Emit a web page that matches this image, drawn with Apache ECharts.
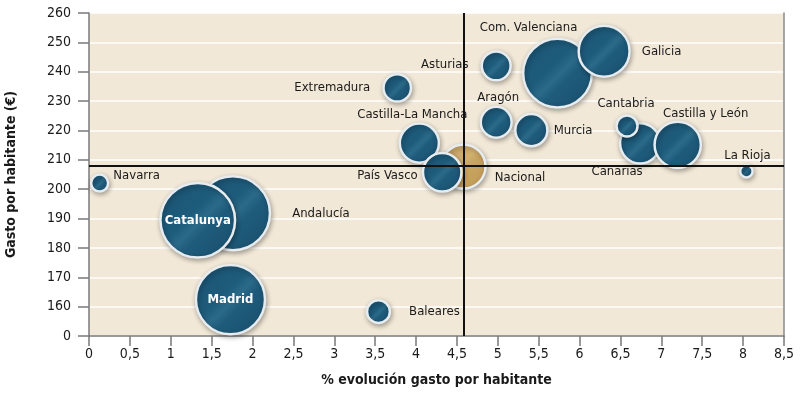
<!DOCTYPE html>
<html>
<head>
<meta charset="utf-8">
<script src="https://cdn.jsdelivr.net/npm/echarts@6/dist/echarts.min.js"></script>
<style>
html,body{margin:0;padding:0;background:#fff;}
#chart{width:800px;height:395px;}
</style>
</head>
<body>
<div id="chart"></div>
<script>
// Data (draw order matters for overlaps)
const regions   = ['Navarra','Andalucía','Catalunya','Madrid','Baleares','Extremadura','Castilla-La Mancha','Nacional','País Vasco','Asturias','Aragón','Murcia','Com. Valenciana','Galicia','Canarias','Cantabria','Castilla y León','La Rioja'];
const evolucion = [0.13, 1.76, 1.33, 1.73, 3.54, 3.77, 4.04, 4.58, 4.32, 4.98, 4.98, 5.41, 5.73, 6.30, 6.74, 6.58, 7.20, 8.04];
const gasto     = [202.1, 191.8, 189.4, 162.4, 158.3, 234.5, 215.7, 207.7, 205.8, 242.0, 222.8, 220.1, 239.5, 247.0, 215.6, 221.5, 215.1, 206.1];
const tamano    = [0.56, 8.68, 8.8, 7.58, 0.95, 1.33, 2.56, 3.21, 2.49, 1.46, 1.65, 1.77, 7.5, 4.22, 2.68, 0.82, 3.52, 0.33];
const mediaX = 4.58;
const mediaY = 208;
const xTicks = {min: 0, max: 8.5, interval: 0.5};
const yTicks = {min: 150, max: 260, interval: 10, breakLabel: '0'};

const FONT = '"Liberation Sans Narrow","DejaVu Sans Condensed",sans-serif';
const BORDER = 2.5;

// label placement (style)
const labelCfg = {
  'Navarra':            {position:'right', distance:4, d:[0,-7]},
  'Andalucía':          {position:'right', distance:21, d:[0,0]},
  'Catalunya':          {position:'inside', inside:true},
  'Madrid':             {position:'inside', inside:true},
  'Baleares':           {position:'right', distance:18, d:[0,0]},
  'Extremadura':        {position:'left', distance:12, d:[0,0]},
  'Castilla-La Mancha': {position:'top', distance:1, d:[-7,0]},
  'Nacional':           {position:'right', distance:8, d:[0,11]},
  'País Vasco':         {position:'left', distance:4, d:[0,3]},
  'Asturias':           {position:'left', distance:12, d:[0,-1]},
  'Aragón':             {position:'top', distance:1, d:[2,0]},
  'Murcia':             {position:'right', distance:5, d:[0,0]},
  'Com. Valenciana':    {position:'top', distance:3, d:[-29,0]},
  'Galicia':            {position:'right', distance:11, d:[0,0]},
  'Canarias':           {position:'bottom', distance:0, d:[-23,0]},
  'Cantabria':          {position:'top', distance:4, d:[-1,0]},
  'Castilla y León':    {position:'top', distance:0, d:[28,0]},
  'La Rioja':           {position:'top', distance:2, d:[1,0]}
};

function bubbleColor(name){
  if(name === 'Nacional'){
    return new echarts.graphic.LinearGradient(0,0,1,1,[
      {offset:0,color:'#c6a060'},{offset:0.45,color:'#d2b071'},{offset:0.55,color:'#c9a462'},{offset:1,color:'#bf9854'}]);
  }
  return new echarts.graphic.LinearGradient(0,0,1,1,[
    {offset:0,color:'#1b5170'},{offset:0.42,color:'#1e5c7c'},{offset:0.52,color:'#2c6a89'},{offset:0.62,color:'#1e5b7b'},{offset:1,color:'#1a4e6b'}]);
}

const data = regions.map((n,i)=>{
  const c = labelCfg[n];
  const lab = c.inside ? {
      show:true, position:'inside', formatter:'{b}', color:'#fff', fontWeight:'bold', fontSize:13, fontFamily:FONT
    } : {
      show:true, position:c.position, distance:c.distance, formatter:'{b}',
      color:'#1a1a1a', fontSize:13, fontFamily:FONT
    };
  return {
    name:n,
    value:[evolucion[i], gasto[i], tamano[i]],
    itemStyle:{color:bubbleColor(n)},
    label:lab
  };
});

const chart = echarts.init(document.getElementById('chart'), null, {renderer:'canvas'});
chart.setOption({
  animation:false,
  backgroundColor:'#ffffff',
  grid:{left:89, right:16, top:13, bottom:59, show:true, backgroundColor:'#f2e8d7', borderWidth:0,
        containLabel:false, outerBoundsMode:'none'},
  xAxis:{
    type:'value', min:xTicks.min, max:xTicks.max, interval:xTicks.interval,
    name:'% evolución gasto por habitante', nameLocation:'middle', nameGap:37,
    nameTextStyle:{fontFamily:FONT, fontWeight:'bold', fontSize:14, color:'#1a1a1a'},
    axisLine:{show:true, onZero:false, lineStyle:{color:'#7a7a7a', width:1.5}},
    axisTick:{show:true, length:10, lineStyle:{color:'#7a7a7a', width:1.5}},
    axisLabel:{fontFamily:FONT, fontSize:14, color:'#1a1a1a', margin:11,
      formatter:v=>String(v).replace('.',',')},
    splitLine:{show:false}
  },
  yAxis:[{
    type:'value', min:yTicks.min, max:yTicks.max, interval:yTicks.interval,
    name:'Gasto por habitante (€)', nameLocation:'middle', nameGap:71, nameRotate:90,
    nameTextStyle:{fontFamily:FONT, fontWeight:'bold', fontSize:14, color:'#1a1a1a'},
    axisLine:{show:true, lineStyle:{color:'#7a7a7a', width:1.5}},
    axisTick:{show:true, length:11, lineStyle:{color:'#7a7a7a', width:1.5}},
    axisLabel:{fontFamily:FONT, fontSize:14, color:'#1a1a1a', margin:18,
      formatter:v=> v===yTicks.min ? yTicks.breakLabel : String(v)},
    splitLine:{show:true, lineStyle:{color:'#ffffff', width:1.5}}
  },{
    type:'value', position:'right', min:yTicks.min, max:yTicks.max, interval:yTicks.interval,
    axisLine:{show:true, lineStyle:{color:'#8a8a8a', width:1.5}},
    axisTick:{show:false}, axisLabel:{show:false}, splitLine:{show:false}
  }],
  series:[{
    type:'scatter', z:1, data:[], silent:true,
    markLine:{
      silent:true, symbol:'none', label:{show:false},
      lineStyle:{color:'#111', type:'solid', width:2},
      data:[{xAxis:mediaX},{yAxis:mediaY}]
    }
  },{
    type:'scatter', z:3,
    symbolSize:(v)=> 2*13*Math.sqrt(v[2]) - BORDER,
    itemStyle:{
      borderColor:'#e6ecef', borderWidth:BORDER,
      shadowBlur:5, shadowColor:'rgba(0,0,0,0.3)', shadowOffsetX:1, shadowOffsetY:2, opacity:1
    },
    emphasis:{disabled:true},
    labelLayout:function(p){
      const c = labelCfg[regions[p.dataIndex]];
      const d = (c && c.d) ? c.d : [0,0];
      return {dx:d[0], dy:d[1], hideOverlap:false};
    },
    data:data
  }]
});
</script>
</body>
</html>
